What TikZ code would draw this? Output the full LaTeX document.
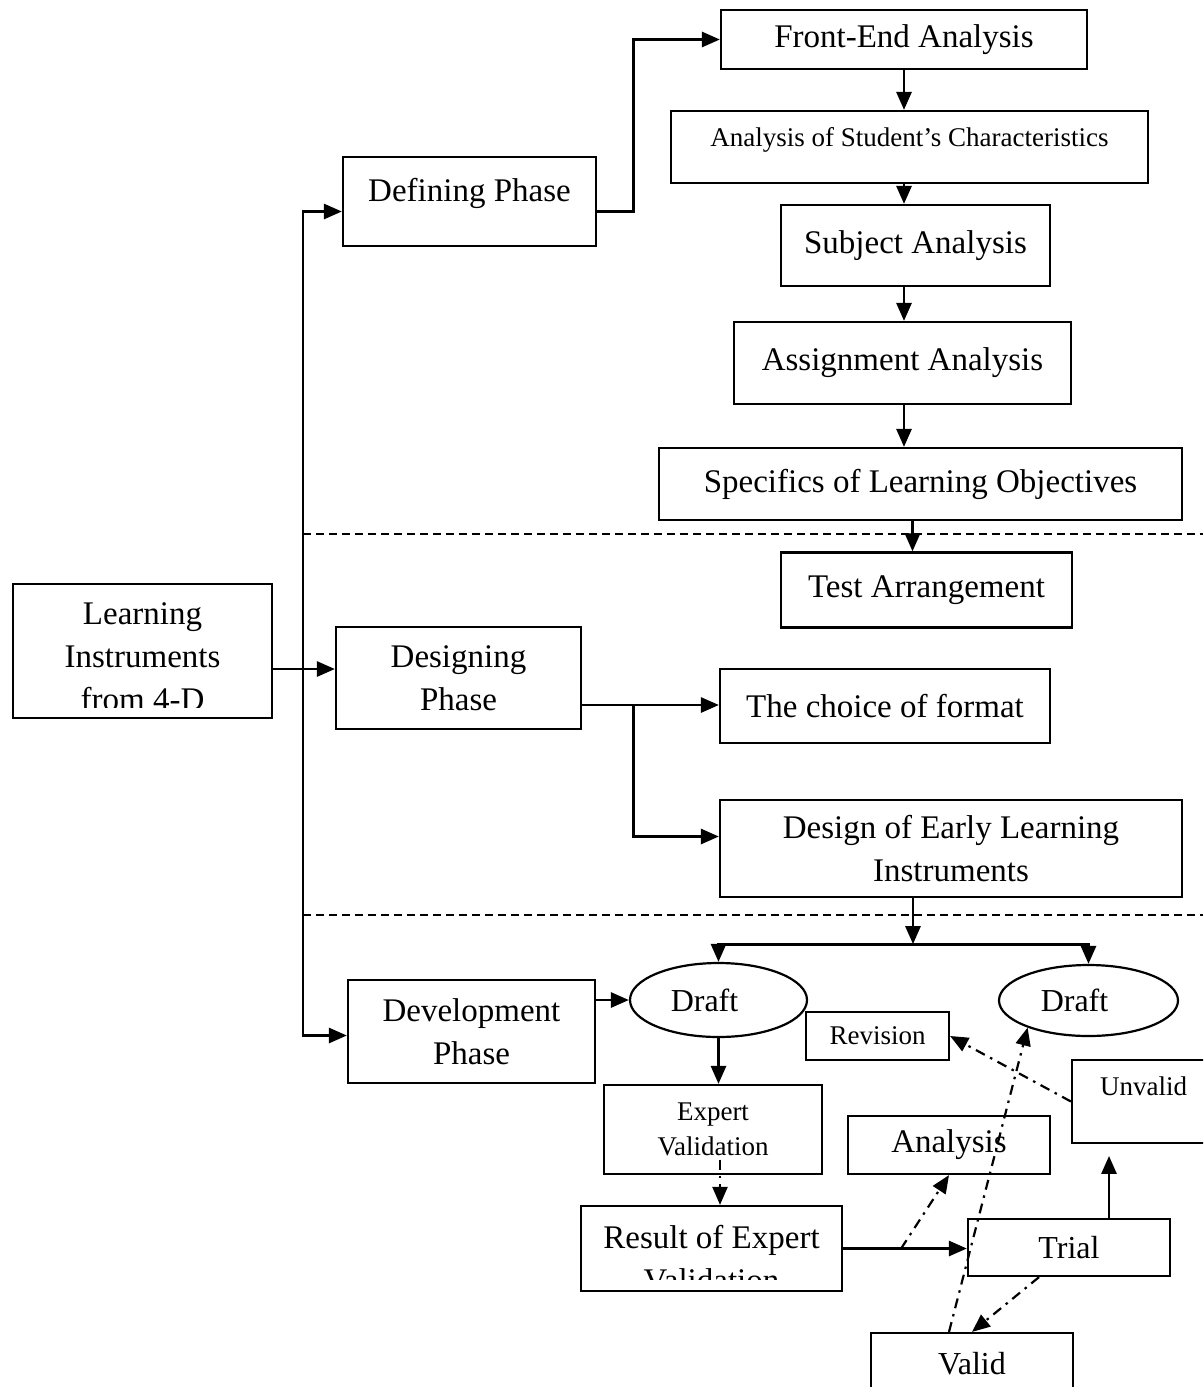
\documentclass[tikz,border=0pt]{standalone}
\usepackage{fontspec}
\setmainfont{Liberation Serif}
\usetikzlibrary{arrows.meta,positioning,calc,shapes.geometric}
\newcommand{\bigtxt}{\fontsize{33}{43}\selectfont}
\newcommand{\midtxt}{\fontsize{32}{40}\selectfont}
\newcommand{\smalltxt}{\fontsize{27}{35}\selectfont}

\begin{document}
\begin{tikzpicture}[x=1pt,y=-1pt,>={Triangle[length=18pt,width=15pt]},
  box/.style={draw,line width=2.2pt,inner sep=0pt,align=center,font=\bigtxt},
  smallbox/.style={box,font=\smalltxt},
  oval/.style={draw,ellipse,line width=2.2pt,inner sep=0pt,font=\midtxt},
  arr/.style={->,line width=2.8pt},
  dd/.style={->,line width=2.2pt,dash pattern=on 10pt off 6pt on 2.5pt off 6pt},
  sep/.style={line width=2pt,dash pattern=on 8pt off 5pt}]
\useasboundingbox (0,0) rectangle (1203,1387);
\clip (0,0) rectangle (1203,1387);

% phases
\node[box,minimum width=259,minimum height=134,
  path picture={\clip (path picture bounding box.north west) rectangle ([yshift=11pt]path picture bounding box.south east);
    \node[align=center,font=\bigtxt] (learntext) at ([yshift=-6pt]path picture bounding box.center) {Learning\\Instruments\\from 4-D};}] (learn) at (142.5,651) {};
\node[box,minimum width=253,minimum height=89,text height=24pt,text depth=25pt] (defining) at (469.5,201.5) {Defining Phase};
\node[box,minimum width=245,minimum height=102] (designing) at (458.5,678) {Designing\\Phase};
\node[box,minimum width=247,minimum height=103] (development) at (471.5,1031.5) {Development\\Phase};

% defining steps
\node[box,minimum width=366,minimum height=59] (front) at (904,39.5) {Front-End Analysis};
\node[smallbox,minimum width=477,minimum height=72,text height=19pt,text depth=21pt] (student) at (909.5,147) {Analysis of Student’s Characteristics};
\node[box,minimum width=269,minimum height=81] (subject) at (915.5,245.5) {Subject Analysis};
\node[box,minimum width=337,minimum height=82] (assign) at (902.5,363) {Assignment Analysis};
\node[box,minimum width=523,minimum height=72] (specifics) at (920.5,484) {Specifics of Learning Objectives};

% designing steps
\node[box,minimum width=291,minimum height=75] (test) at (926.5,590) {Test Arrangement};
\node[box,minimum width=330,minimum height=74] (format) at (885,706) {The choice of format};
\node[box,minimum width=462,minimum height=97] (early) at (951,848.5) {Design of Early Learning\\Instruments};

% development steps
\node[oval,minimum width=177,minimum height=74] (draft1) at (718.5,1000) {Draft\kern28pt};
\node[oval,minimum width=179,minimum height=71] (draft2) at (1088.5,1000.5) {Draft\kern28pt};
\node[smallbox,minimum width=143,minimum height=48] (revision) at (877.5,1036) {Revision};
\node[smallbox,minimum width=143,minimum height=83,text height=19pt,text depth=31pt] (unvalid) at (1143.5,1101.5) {Unvalid};
\node[smallbox,minimum width=218,minimum height=89] (expert) at (713,1129.5) {Expert\\Validation};
\node[box,minimum width=202,minimum height=58] (analysis) at (949,1145) {Analysis};
\node[box,minimum width=261,minimum height=85,
  path picture={\clip (path picture bounding box.north west) rectangle ([yshift=12pt]path picture bounding box.south east);
    \node[align=center,font=\bigtxt] (resulttext) at ([yshift=-10pt]path picture bounding box.center) {Result of Expert\\Validation};}] (result) at (711.5,1248.5) {};
\node[box,font=\midtxt,minimum width=202,minimum height=57] (trial) at (1069,1247.5) {Trial};
\node[box,font=\midtxt,minimum width=202,minimum height=62] (valid) at (972,1364) {Valid};

% separators
\draw[sep] (303,534) -- (1203,534);
\draw[sep] (303,915) -- (1203,915);

% main connectors
\coordinate (trunk) at (303,670);
\draw[arr] ([yshift=-18pt]learn.east) -- ([yshift=-18pt]learn.east -| designing.west);
\draw[arr] (trunk) |- ([yshift=-10pt]defining.west);
\draw[arr] (trunk) |- ([yshift=-4pt]development.west);
\draw[arr] ([yshift=-10pt]defining.east) -- ++(36,0) |- (front.west);
\draw[arr] (front.south) -- (front.south |- student.north);
\draw[arr] (front.south |- student.south) -- (front.south |- subject.north);
\draw[arr] (front.south |- subject.south) -- (front.south |- assign.north);
\draw[arr] (front.south |- assign.south) -- (front.south |- specifics.north);
\draw[arr] ([xshift=-8pt]specifics.south) -- ([xshift=-8pt]specifics.south |- test.north);
\coordinate (dsgout) at ([yshift=-27pt]designing.east);
\draw[arr] (dsgout) -- (dsgout -| format.west);
\draw[arr] ([xshift=51pt]dsgout) |- ([yshift=12pt]early.west);
\coordinate (split) at ($(early.south)+(-38,46)$);
\draw[arr] (early.south -| split) -- (split);
\draw[arr] (split) -| (draft1.north);
\draw[arr] (split) -| (draft2.north);
\draw[arr] (development.east |- draft1.west) -- (draft1.west);
\draw[arr] (draft1.south) -- (draft1.south |- expert.north);
\coordinate (evd) at ($(expert.center)+(7,30)$);
\draw[dd] (evd) -- (evd |- result.north);
\draw[arr] (result.east) -- (result.east -| trial.west);
\draw[arr] ($(trial.north)+(40,0)$) -- ($(trial.north)+(40,-62)$);

% dash-dot connectors
\coordinate (fork) at ($(result.east)+(58,0)$);
\draw[dd] (fork) -- (analysis.south);
\draw[dd] ($(trial.south)+(-30,0)$) -- (valid.north);
\draw[dd] ($(valid.north)+(-23,0)$) -- (draft2.204);
\draw[dd] (unvalid.west) -- (revision.east);
\end{tikzpicture}
\end{document}
